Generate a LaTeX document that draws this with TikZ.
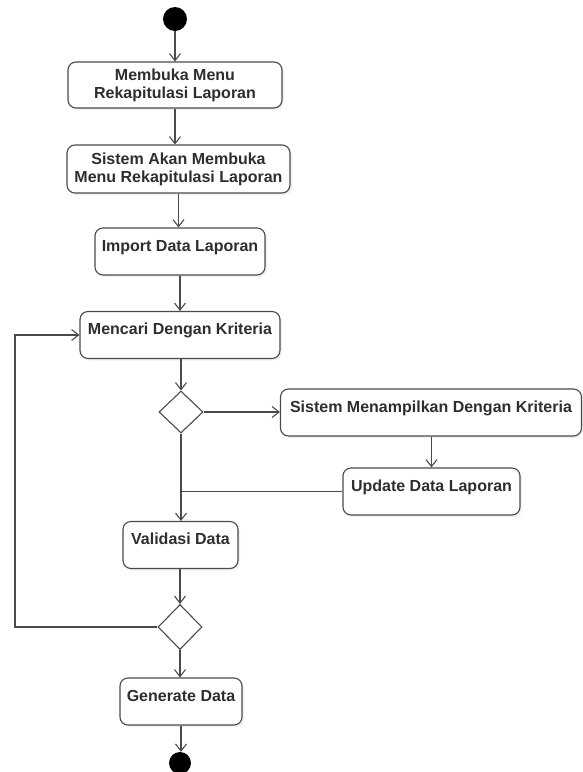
\documentclass[tikz,border=0pt]{standalone}
\usepackage{fontspec}
\setmainfont{Liberation Sans}
\usetikzlibrary{arrows.meta,shapes.geometric,shadows}
\definecolor{edge}{HTML}{4A4A4A}
\definecolor{ink}{HTML}{2E2E2E}
\tikzset{
  act/.style={draw=edge, line width=1.1pt, rounded corners=8pt, fill=white,
    drop shadow={opacity=0.12, shadow xshift=2pt, shadow yshift=-2pt},
    text=ink, font=\fontsize{16}{18}\selectfont\bfseries, align=center,
    inner xsep=2pt},
  oneline/.style={act, inner ysep=0pt, text height=23pt, text depth=24pt},
  twoline/.style={act, inner ysep=0pt},
  choice/.style={diamond, draw=edge, line width=1.1pt, fill=white, inner sep=0pt,
    minimum width=44pt, minimum height=42pt},
  dot/.style={circle, fill=black, inner sep=0pt},
  flow/.style={draw=edge, line width=1.1pt, -{Straight Barb[length=7pt,width=11pt,line width=1.1pt]}},
  plain/.style={draw=edge, line width=1.1pt}
}
\begin{document}
\begin{tikzpicture}[x=1pt, y=-1pt]
\useasboundingbox (0,0) rectangle (583,772);

% initial and final states
\node[dot, minimum size=24pt] (start) at (175,19) {};
\node[dot, minimum size=22pt] (stop) at (180,763) {};

% actions
\node[twoline, minimum width=214pt, minimum height=46pt] (b1) at (175,85)
  {Membuka Menu\\Rekapitulasi Laporan};
\node[twoline, minimum width=223pt, minimum height=48pt] (b2) at (178.5,169)
  {Sistem Akan Membuka\\Menu Rekapitulasi Laporan};
\node[oneline, minimum width=170pt] (b3) at (180,251.5) {Import Data Laporan};
\node[oneline, minimum width=200pt] (b4) at (180,335) {Mencari Dengan Kriteria};
\node[oneline, minimum width=301pt] (b5) at (431,412.5) {Sistem Menampilkan Dengan Kriteria};
\node[oneline, minimum width=177pt] (b6) at (431.5,491.5) {Update Data Laporan};
\node[oneline, minimum width=115pt] (b7) at (180.5,545) {Validasi Data};
\node[oneline, minimum width=122pt] (b8) at (181,701.5) {Generate Data};

% decisions
\node[choice] (d1) at (181,412) {};
\node[choice, minimum height=45pt] (d2) at (180,627) {};

% left edge of the loop back
\coordinate (loopx) at (15,0);

% main flow
\draw[flow] (start) -- (start |- b1.north);
\draw[flow] (b1.south) -- (b1.south |- b2.north);
\draw[flow] (b2.south) -- (b2.south |- b3.north);
\draw[flow] (b3.south) -- (b3.south |- b4.north);
\draw[flow] (b4.south) -- (b4.south -| d1.north) -- (d1.north);
\draw[flow] (d1.east) -- (d1.east -| b5.west);
\draw[flow] (b5.south -| b6.north) -- (b6.north);
\draw[flow] (d1.south) -- (d1.south |- b7.north);
\draw[plain] (b6.west) -- (b6.west -| d1.south);
\draw[flow] (b7.south) -- (b7.south -| d2.north) -- (d2.north);
\draw[flow] (d2.west) -- (d2.west -| loopx) |- (b4.west);
\draw[flow] (d2.south) -- (d2.south |- b8.north);
\draw[flow] (b8.south) -- (b8.south |- stop.north);
\end{tikzpicture}
\end{document}
